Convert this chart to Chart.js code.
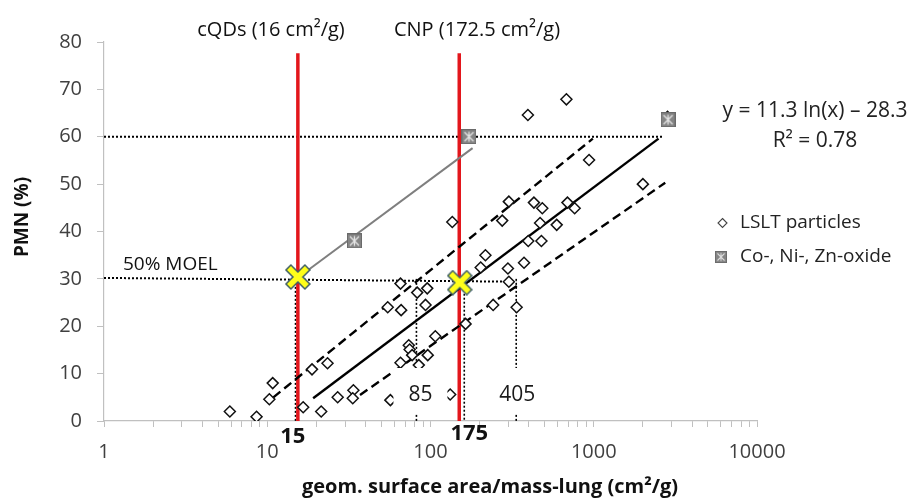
<!DOCTYPE html>
<html><head><meta charset="utf-8">
<script src="https://cdn.jsdelivr.net/npm/chart.js@4.4.1/dist/chart.umd.min.js"></script>
<style>html,body{margin:0;padding:0;background:#fff;}canvas{display:block;}</style>
</head><body>
<canvas id="c" width="920" height="498"></canvas>
<script>
// ---------- data ----------
const lsltX = [5.9, 8.6, 10.3, 10.8, 16.6, 18.8, 21.4, 23.4, 27.0, 33.7, 33.4, 54.7, 56.8, 65.5, 66.1, 65.5, 73.6, 74.5, 77.2, 82.9, 84.8, 93.2, 95.5, 96.2, 107, 132, 136, 164, 203, 217, 242, 275, 298, 302, 302, 337, 374, 395, 397, 430, 469, 478, 484, 593, 680, 690, 764, 936, 2000, 2830];
const lsltY = [2.0, 0.9, 4.6, 8.0, 2.9, 10.9, 2.0, 12.2, 5.0, 6.5, 4.8, 24.0, 4.4, 29.0, 23.4, 12.3, 16.0, 15.1, 13.9, 27.1, 11.8, 24.5, 28.0, 13.9, 17.9, 5.6, 42.0, 20.5, 32.4, 35.0, 24.5, 42.3, 32.2, 46.3, 29.4, 24.0, 33.4, 64.6, 38.0, 46.1, 41.8, 38.0, 44.9, 41.4, 67.9, 46.1, 44.9, 55.1, 50.0, 64.2];
const oxideX = [34.2, 172, 2850];
const oxideY = [38.0, 60.0, 63.6];
const markX = [15.4, 151];
const markY = [30.4, 29.2];
const fitX = [19.1, 2494];
const fitY = [4.8, 59.6];
const upperX = [10.9, 987];
const upperY = [5.0, 59.6];
const lowerX = [37, 2741];
const lowerY = [5.5, 50.3];
const oxideFitX = [17.4, 181];
const oxideFitY = [31.6, 57.6];
const redX = [15.4, 150];
const redTop = 77.6;
const h60X = [1, 2675];
const h60Y = [60, 60];
const h30X = [1, 335];
const h30Y = [30.2, 29.4];
const dropX = [14.9, 82, 335, 161];
const dropTop = [30, 30, 30, 29.4];
const xTickLabels = [1, 10, 100, 1000, 10000];
const yMin = 0, yMax = 80, yStep = 10;
const dropLabels = ['85', '405'];
const boldXLabels = ['15', '175'];
const topLabels = ['cQDs (16 cm²/g)', 'CNP (172.5 cm²/g)'];
const legendLabels = ['LSLT particles', 'Co-, Ni-, Zn-oxide'];
const eqText = ['y = 11.3 ln(x) – 28.3', 'R² = 0.78'];

// ---------- helpers ----------
const pts = (xs, ys) => xs.map((x, i) => ({x, y: ys[i]}));
const FONT = '"Open Sans", Lato, sans-serif';

function oxideIcon() {
  const c = document.createElement('canvas'); c.width = 15; c.height = 15;
  const g = c.getContext('2d');
  g.fillStyle = '#858585'; g.fillRect(0, 0, 15, 15);
  g.strokeStyle = '#6a6a6a'; g.lineWidth = 1; g.strokeRect(0.5, 0.5, 14, 14);
  g.strokeStyle = '#e6e6e6'; g.lineWidth = 1.3;
  g.beginPath();
  g.moveTo(3, 3); g.lineTo(12, 12); g.moveTo(12, 3); g.lineTo(3, 12);
  g.moveTo(7.5, 2.5); g.lineTo(7.5, 12.5);
  g.stroke();
  return c;
}
function crossIcon() {
  const c = document.createElement('canvas'); c.width = 26; c.height = 26;
  const g = c.getContext('2d');
  g.lineCap = 'square';
  g.beginPath(); g.moveTo(6, 6); g.lineTo(20, 20); g.moveTo(20, 6); g.lineTo(6, 20);
  g.strokeStyle = '#3f5f66'; g.lineWidth = 8.5; g.stroke();
  g.strokeStyle = '#ffff1a'; g.lineWidth = 5.5; g.stroke();
  return c;
}
const oxImg = oxideIcon();
const xImg = crossIcon();

const lineDs = (data, color, width, dash, order) => ({
  data, showLine: true, borderColor: color, borderWidth: width, borderDash: dash || [],
  pointRadius: 0, fill: false, order, tension: 0
});

const datasets = [
  {data: pts(markX, markY), pointStyle: xImg, pointRadius: 13, order: 0},
  {data: pts(oxideX, oxideY), pointStyle: oxImg, pointRadius: 8, order: 1},
  {data: pts(lsltX, lsltY), pointStyle: 'rectRot', pointRadius: 5.5, borderColor: '#111', backgroundColor: '#fff', borderWidth: 1.5, order: 2},
  lineDs(pts(fitX, fitY), '#000', 2.4, [], 3),
  lineDs(pts(upperX, upperY), '#000', 2.4, [9, 5], 3),
  lineDs(pts(lowerX, lowerY), '#000', 2.4, [9, 5], 3),
  lineDs(pts(oxideFitX, oxideFitY), '#7f7f7f', 2, [], 4),
  lineDs(pts(h60X, h60Y), '#000', 2, [2, 2], 6),
  lineDs(pts(h30X, h30Y), '#000', 2, [2, 2], 6),
];
dropX.forEach((x, i) => datasets.push(lineDs([{x, y: dropTop[i]}, {x, y: 0}], '#000', 1.6, [2, 2], 6)));
redX.forEach(x => datasets.push(lineDs([{x, y: 0}, {x, y: redTop}], '#e3161c', 3.5, [], 5)));

const annot = {
  id: 'annot',
  afterDatasetsDraw(chart) {
    const ctx = chart.ctx, xs = chart.scales.x;
    ctx.save();
    ctx.textAlign = 'center'; ctx.textBaseline = 'middle';
    // drop-line labels with white boxes
    [dropX[1], dropX[2]].forEach((v, i) => {
      const px = xs.getPixelForValue(v) + (i === 0 ? 4 : 1);
      ctx.fillStyle = '#fff';
      ctx.fillRect(px - 27, 368, 54, 46);
      ctx.fillStyle = '#1a1a1a';
      ctx.font = '21px ' + FONT;
      ctx.fillText(dropLabels[i], px, 395);
    });
    // bold labels below axis
    ctx.font = 'bold 22px ' + FONT; ctx.fillStyle = '#111';
    ctx.fillText(boldXLabels[0], xs.getPixelForValue(redX[0]) - 5, 437);
    ctx.fillText(boldXLabels[1], xs.getPixelForValue(redX[1]) + 10, 434);
    // top labels
    ctx.font = '20px ' + FONT; ctx.fillStyle = '#111';
    ctx.fillText(topLabels[0], 271, 30);
    ctx.fillText(topLabels[1], 477, 30);
    // MOEL
    ctx.font = '19px ' + FONT; ctx.textAlign = 'left';
    ctx.fillText('50% MOEL', 123, 265);
    // equation
    ctx.textAlign = 'center'; ctx.font = '21px ' + FONT; ctx.fillStyle = '#222';
    ctx.fillText(eqText[0], 815, 111);
    ctx.fillText(eqText[1], 815, 141);
    // legend
    ctx.textAlign = 'left'; ctx.font = '19px ' + FONT;
    ctx.fillText(legendLabels[0], 740, 223);
    ctx.fillText(legendLabels[1], 740, 257);
    ctx.beginPath();
    ctx.moveTo(722.5, 218.5); ctx.lineTo(727, 223); ctx.lineTo(722.5, 227.5); ctx.lineTo(718, 223); ctx.closePath();
    ctx.strokeStyle = '#444'; ctx.lineWidth = 1.1; ctx.stroke();
    ctx.drawImage(oxImg, 715, 251, 12, 12);
    // axis titles
    ctx.font = 'bold 20px ' + FONT; ctx.fillStyle = '#111'; ctx.textAlign = 'center';
    ctx.fillText('geom. surface area/mass-lung (cm²/g)', 490, 487);
    ctx.font = 'bold 19px ' + FONT;
    ctx.translate(23, 217); ctx.rotate(-Math.PI / 2);
    ctx.fillText('PMN (%)', 0, 0);
    ctx.restore();
  }
};

new Chart(document.getElementById('c'), {
  type: 'scatter',
  data: {datasets},
  plugins: [annot],
  options: {
    responsive: false, animation: false, events: [],
    layout: {padding: {top: 42, right: 163, left: 0, bottom: 0}},
    plugins: {legend: {display: false}, tooltip: {enabled: false}},
    scales: {
      x: {
        type: 'logarithmic', min: 1, max: 10000,
        afterBuildTicks(scale) {
          const t = [];
          for (let e = 0; e <= 4; e++) for (let m = 1; m < 10; m++) {
            const v = m * Math.pow(10, e);
            if (v <= 10000) t.push({value: v});
          }
          scale.ticks = t;
        },
        afterFit(scale) { scale.height = 77; },
        ticks: {
          autoSkip: false, maxRotation: 0, padding: 13, color: '#404040',
          font: {family: FONT, size: 20},
          callback: v => xTickLabels.includes(v) ? String(v) : ''
        },
        grid: {drawOnChartArea: false, drawTicks: true, tickLength: 6, color: '#c0c0c0'},
        border: {color: '#c0c0c0', width: 1.2}
      },
      y: {
        min: yMin, max: yMax,
        afterFit(scale) { scale.width = 104; },
        ticks: {stepSize: yStep, padding: 15, color: '#404040', font: {family: FONT, size: 20}},
        grid: {drawOnChartArea: false, drawTicks: true, tickLength: 7, color: '#c0c0c0'},
        border: {color: '#c0c0c0', width: 1.2}
      }
    }
  }
});
</script>
</body></html>
